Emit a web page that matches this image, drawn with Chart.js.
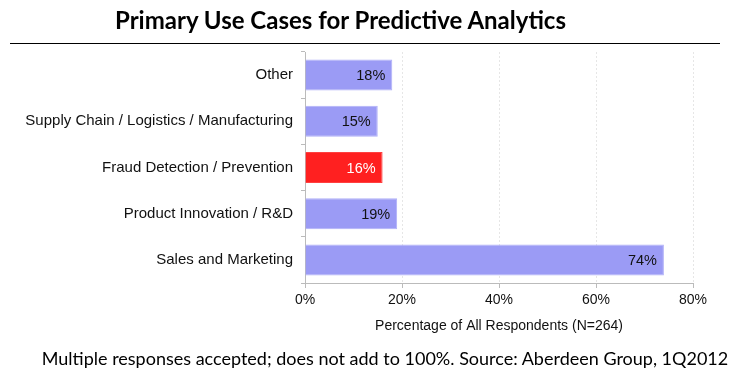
<!DOCTYPE html>
<html>
<head>
<meta charset="utf-8">
<script src="https://cdn.jsdelivr.net/npm/chart.js@4.4.0/dist/chart.umd.min.js"></script>
<style>
  body { margin: 0; background: #fff; }
  #wrap { position: relative; width: 743px; height: 377px; overflow: hidden; }
  #chart { position: absolute; left: 0; top: 0; }
  .title { position: absolute; left: 0; width: 681px; top: 5px; text-align: center;
           font: bold 24px Lato, sans-serif; color: #000; }
  .rule { position: absolute; left: 10px; top: 43px; width: 710px; height: 1px; background: #000; }
  .note { position: absolute; left: 0; width: 770px; top: 347px; text-align: center;
          font: 18px Lato, sans-serif; color: #000; }
</style>
</head>
<body>
<div id="wrap">
  <canvas id="chart" width="743" height="377"></canvas>
  <div class="title">Primary Use Cases for Predictive Analytics</div>
  <div class="rule"></div>
  <div class="note">Multiple responses accepted; does not add to 100%. Source: Aberdeen Group, 1Q2012</div>
</div>
<script>
const categories = ['Other', 'Supply Chain / Logistics / Manufacturing', 'Fraud Detection / Prevention', 'Product Innovation / R&D', 'Sales and Marketing'];
const shares = [18, 15, 16, 19, 74];
const highlighted = [false, false, true, false, false];
const xTicks = [0, 20, 40, 60, 80];

// draws "NN%" inside the end of each bar
const barLabels = {
    id: 'barLabels',
    afterDatasetsDraw(chart) {
        const ctx = chart.ctx;
        const meta = chart.getDatasetMeta(0);
        ctx.save();
        ctx.font = '14.5px "Liberation Sans", Arial, sans-serif';
        ctx.textAlign = 'right';
        ctx.textBaseline = 'middle';
        meta.data.forEach((bar, i) => {
            ctx.fillStyle = highlighted[i] ? '#ffffff' : '#111111';
            ctx.fillText(shares[i] + '%', bar.x - 7, bar.y + 1);
        });
        ctx.restore();
    }
};

new Chart(document.getElementById('chart'), {
    type: 'bar',
    data: {
        labels: categories,
        datasets: [{
            data: shares,
            backgroundColor: highlighted.map(h => h ? '#ff2020' : '#9b9bf5'),
            borderColor: highlighted.map(h => h ? '#ff4040' : '#b0b0f8'),
            borderWidth: 1,
            barPercentage: 0.67,
            categoryPercentage: 1
        }]
    },
    options: {
        indexAxis: 'y',
        responsive: false,
        animation: false,
        layout: { padding: { top: 52, right: 50, bottom: 34, left: 0 } },
        plugins: { legend: { display: false }, tooltip: { enabled: false } },
        scales: {
            x: {
                min: 0,
                max: 80,
                afterBuildTicks: s => { s.ticks = xTicks.map(v => ({ value: v })); },
                afterFit: s => { s.height = 60; },
                grid: {
                    color: c => (c.tick && c.tick.value === 0) ? 'rgba(0,0,0,0)' : '#e6e6e6',
                    tickColor: '#bbbbbb',
                    tickLength: 5
                },
                border: { color: '#bbbbbb', dash: [2, 2] },
                ticks: {
                    callback: v => v + '%',
                    color: '#111',
                    font: { family: '"Liberation Sans", Arial, sans-serif', size: 14 },
                    padding: 4
                },
                title: {
                    display: true,
                    text: 'Percentage of All Respondents (N=264)',
                    color: '#111',
                    font: { family: '"Liberation Sans", Arial, sans-serif', size: 14 },
                    padding: { top: 4, bottom: 8 }
                }
            },
            y: {
                afterFit: s => { s.width = 305; },
                grid: {
                    drawOnChartArea: false,
                    color: '#bbbbbb',
                    tickLength: 4
                },
                border: { color: '#bbbbbb' },
                ticks: {
                    color: '#111',
                    font: { family: '"Liberation Sans", Arial, sans-serif', size: 15 },
                    padding: 8
                }
            }
        }
    },
    plugins: [barLabels]
});
</script>
</body>
</html>
